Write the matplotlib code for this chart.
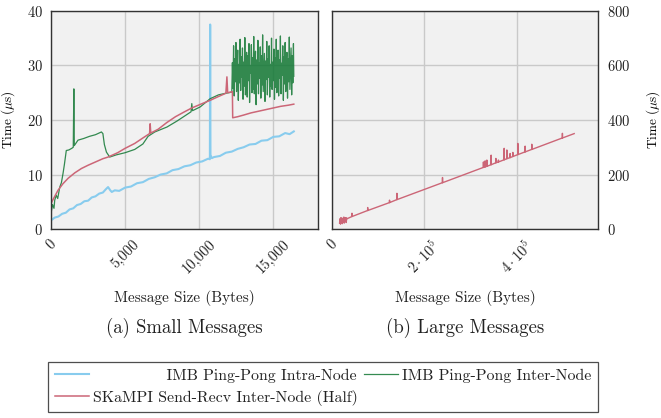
import matplotlib
matplotlib.use("Agg")
import matplotlib.pyplot as plt

# %% data (message size in bytes, time in microseconds)
intra_x = [0, 250, 500, 750, 1000, 1250, 1500, 1750, 2000, 2250, 2500, 2750, 3000,
           3250, 3500, 3700, 3850, 4000, 4100, 4300, 4600, 5000, 5400, 5800, 6200,
           6600, 7000, 7400, 7800, 8200, 8600, 9000, 9400, 9800, 10200, 10600, 10720,
           10740, 10760, 10850, 11000, 11400, 11800, 12200, 12600, 13000, 13400,
           13800, 14200, 14600, 15000, 15400, 15800, 16100, 16384]
intra_t = [1.6, 2.1, 2.3, 2.8, 3.0, 3.6, 3.8, 4.4, 4.6, 5.1, 5.2, 5.8, 6.0,
           6.5, 6.7, 7.3, 7.7, 7.1, 6.8, 7.1, 7.0, 7.6, 7.8, 8.4, 8.6,
           9.2, 9.5, 10.0, 10.2, 10.8, 11.0, 11.5, 11.7, 12.2, 12.4, 12.9, 12.8,
           37.5, 13.6, 13.0, 13.2, 13.4, 14.0, 14.2, 14.7, 15.0, 15.5,
           15.6, 16.2, 16.3, 16.9, 17.0, 17.6, 17.4, 17.9]

skampi_x = [0, 250, 470, 800, 1150, 1600, 2050, 2500, 3000, 3500, 3850, 4500, 5000,
            5650, 6200, 6650, 6690, 6730, 7230, 7800, 8400, 8940, 9500, 10200, 10740,
            11300, 11800, 11870, 11920, 12100, 12240, 12260, 12600, 13000, 13500,
            14000, 14500, 15000, 15500, 16000, 16384]
skampi_t = [4.7, 6.0, 7.1, 8.3, 9.3, 10.3, 11.1, 11.7, 12.3, 12.9, 13.2, 14.0, 14.8,
            15.7, 16.7, 17.5, 19.3, 17.6, 18.3, 19.5, 20.6, 21.4, 22.2, 23.0, 23.6,
            24.3, 24.9, 27.9, 25.0, 25.1, 25.2, 20.4, 20.6, 20.9, 21.3,
            21.6, 21.9, 22.2, 22.5, 22.7, 22.9]

inter_x = [0, 100, 200, 250, 350, 450, 590, 700, 810, 900, 1030, 1200, 1400, 1500,
           1540, 1570, 1820, 2200, 2600, 3000, 3400, 3500, 3600, 3740, 3960, 4400,
           5000, 5650, 6200, 6550, 7000, 7820, 8500, 9000, 9450, 9500, 9550, 10070,
           10740, 11300, 11800, 12200,
           12240, 12280, 12320, 12360, 12400, 12440, 12480, 12520, 12560, 12600,
           12640, 12680, 12720, 12760, 12800, 12840, 12880, 12920, 12960, 13000,
           13040, 13080, 13120, 13160, 13200, 13240, 13280, 13320, 13360, 13400,
           13440, 13480, 13520, 13560, 13600, 13640, 13680, 13720, 13760, 13800,
           13840, 13880, 13920, 13960, 14000, 14040, 14080, 14120, 14160, 14200,
           14240, 14280, 14320, 14360, 14400, 14440, 14480, 14520, 14560, 14600,
           14640, 14680, 14720, 14760, 14800, 14840, 14880, 14920, 14960, 15000,
           15040, 15080, 15120, 15160, 15200, 15240, 15280, 15320, 15360, 15400,
           15440, 15480, 15520, 15560, 15600, 15640, 15680, 15720, 15760, 15800,
           15840, 15880, 15920, 15960, 16000, 16040, 16080, 16120, 16160, 16200,
           16240, 16280, 16320, 16360, 16384]
inter_t = [2.9, 4.5, 3.8, 5.3, 6.2, 5.6, 7.7, 8.5, 10.2, 11.8, 14.4, 14.5, 14.8, 15.0,
           25.7, 15.3, 16.3, 16.6, 17.0, 17.3, 17.8, 17.5, 15.5, 14.1, 13.2, 13.6,
           14.0, 14.6, 15.6, 17.0, 17.8, 18.7, 19.8, 20.7, 21.5, 23.0, 21.7, 22.4,
           23.9, 24.6, 24.9, 25.1,
           30.5, 25.8, 33.6, 24.4, 31.2, 27.0, 34.2, 25.2, 29.4, 32.8,
           23.6, 30.2, 26.8, 34.8, 25.4, 31.6, 27.8, 33.2, 23.8, 30.6,
           26.2, 35.1, 24.6, 29.2, 32.4, 24.2, 31.8, 27.2, 34.0, 23.2,
           30.0, 28.6, 33.8, 25.0, 31.4, 25.6, 35.3, 24.8, 29.6, 32.6,
           22.8, 31.0, 26.6, 34.6, 24.8, 30.4, 27.6, 33.4, 24.0, 31.8,
           26.4, 35.6, 25.2, 29.0, 32.2, 23.4, 30.8, 27.4, 34.4, 24.6,
           31.2, 27.8, 33.6, 24.2, 30.2, 26.2, 35.0, 25.6, 30.6, 27.2,
           33.0, 23.8, 31.4, 26.0, 34.8, 25.0, 29.8, 32.8, 24.4, 31.0,
           27.6, 35.4, 24.8, 30.4, 28.2, 33.6, 23.6, 31.6, 26.6, 34.2,
           25.2, 30.0, 32.4, 24.0, 31.2, 27.0, 35.2, 25.6, 29.4, 33.2,
           24.6, 31.8, 26.8, 34.0, 28.0]

large_x = [16384, 17408, 18432, 19456, 20480, 21504, 22528, 23552, 24576, 25600,
           26624, 27648, 28672, 29696, 30720, 31744, 32768,
           43000, 43200, 43400, 77000, 77200, 77400, 124300, 124500, 124700,
           140300, 140500, 140700, 239000, 239200, 239400, 327600, 327800, 328000,
           331300, 331500, 331700, 335000, 335200, 335400, 344300, 344500, 344700,
           354500, 354700, 354900, 360100, 360300, 360500, 372500, 372700, 372900,
           378300, 378500, 378700, 385400, 385600, 385800, 391300, 391500, 391700,
           402100, 402300, 402500, 417900, 418100, 418300, 432300, 432500, 432700,
           498600, 498800, 499000, 524288]
large_t = [22, 38, 18, 42, 24, 36, 20, 40, 26, 44,
           22, 38, 28, 42, 24, 40, 38,
           46, 58, 46, 68, 79, 68, 97, 106, 97,
           108, 131, 108, 170, 189, 170, 226, 246, 226,
           228, 250, 228, 230, 253, 230, 236, 271, 236,
           243, 259, 243, 246, 253, 246, 254, 296, 254,
           258, 290, 258, 262, 277, 262, 266, 281, 266,
           273, 314, 273, 283, 304, 283, 292, 311, 292,
           334, 351, 334, 350]

small_ticks = [0, 5000, 10000, 15000]
small_ticklabels = ["0", "5,000", "10,000", "15,000"]
large_ticks = [0, 200000, 400000]
large_ticklabels = ["0", r"$2\cdot10^{5}$", r"$4\cdot10^{5}$"]

c_intra = "#88ccee"
c_inter = "#117733"
c_skampi = "#cc6677"

# %% style
plt.rcParams["font.family"] = "serif"
plt.rcParams["font.serif"] = ["cmr10", "DejaVu Serif"]
plt.rcParams["mathtext.fontset"] = "cm"
plt.rcParams["axes.formatter.use_mathtext"] = True
plt.rcParams["font.size"] = 10.5
plt.rcParams["text.color"] = "#222222"
plt.rcParams["xtick.color"] = "#222222"
plt.rcParams["ytick.color"] = "#222222"

fig = plt.figure(figsize=(6.61, 4.18), dpi=100)
ax1 = fig.add_axes([0.0772, 0.452, 0.404, 0.522])
ax2 = fig.add_axes([0.5023, 0.452, 0.403, 0.522])

for ax in (ax1, ax2):
    ax.set_facecolor("#f1f1f1")
    ax.grid(True, color="#c9c9c9", linewidth=1.0)
    ax.set_axisbelow(True)
    for s in ax.spines.values():
        s.set_color("#333333")
        s.set_linewidth(1.0)
    ax.tick_params(length=0, labelsize=10.5)

# %% small messages
l_intra, = ax1.plot(intra_x, intra_t, color=c_intra, lw=1.5)
l_inter, = ax1.plot(inter_x, inter_t, color=c_inter, lw=0.9, alpha=0.85)
l_skampi, = ax1.plot(skampi_x, skampi_t, color=c_skampi, lw=1.1)
ax1.set_xlim(0, 18022)
ax1.set_ylim(0, 40)
ax1.set_yticks([0, 10, 20, 30, 40])
ax1.set_xticks(small_ticks)
ax1.set_xticklabels(small_ticklabels, rotation=45, ha="center", va="top")
ax1.tick_params(axis="y", pad=6)
ax1.tick_params(axis="x", pad=6)
ax1.set_ylabel(r"Time ($\mu$s)", fontsize=9.5)
ax1.yaxis.set_label_coords(-0.128, 0.5)

# %% large messages
ax2.plot(large_x, large_t, color=c_skampi, lw=1.0)
ax2.set_xlim(0, 576717)
ax2.set_ylim(0, 800)
ax2.set_yticks([0, 200, 400, 600, 800])
ax2.set_xticks(large_ticks)
ax2.set_xticklabels(large_ticklabels, rotation=45, ha="center", va="top")
ax2.yaxis.tick_right()
ax2.yaxis.set_label_position("right")
ax2.tick_params(axis="y", pad=6)
ax2.tick_params(axis="x", pad=6)
ax2.set_ylabel(r"Time ($\mu$s)", fontsize=9.5)
ax2.yaxis.set_label_coords(1.172, 0.5)

fig.text(0.279, 0.287, "Message Size (Bytes)", ha="center", va="center", fontsize=11)
fig.text(0.7035, 0.287, "Message Size (Bytes)", ha="center", va="center", fontsize=11)
fig.text(0.279, 0.215, "(a) Small Messages", ha="center", va="center", fontsize=13.5)
fig.text(0.7035, 0.215, "(b) Large Messages", ha="center", va="center", fontsize=13.5)

# the first label is right-aligned in its cell in the reference
leg = fig.legend([l_intra, l_skampi, l_inter],
                 [" " * 14 + "IMB Ping-Pong Intra-Node",
                  "SKaMPI Send-Recv Inter-Node (Half)",
                  "IMB Ping-Pong Inter-Node"],
                 ncol=2, loc="upper left", bbox_to_anchor=(0.073, 0.134),
                 frameon=True, fancybox=False, edgecolor="#222222",
                 fontsize=11.4, handlelength=2.15, columnspacing=0.35,
                 handletextpad=0.3, labelspacing=0.44, borderaxespad=0,
                 borderpad=0.4)
leg.get_frame().set_linewidth(0.9)

fig.savefig("out.png", dpi=100)
